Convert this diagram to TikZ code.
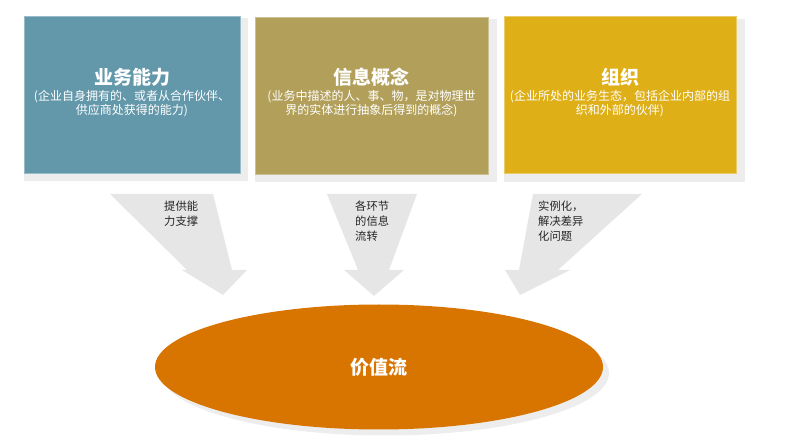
\documentclass[tikz,border=0pt]{standalone}
\usepackage{fontspec}
\setmainfont{Noto Sans CJK SC}
\usetikzlibrary{shapes.geometric,shadows}
\definecolor{capblue}{HTML}{6398AA}
\definecolor{infokhaki}{HTML}{B2A05A}
\definecolor{orggold}{HTML}{DFAF17}
\definecolor{valueorange}{HTML}{D87400}
\definecolor{shadowgray}{HTML}{EDEDED}
\definecolor{arrowgray}{HTML}{E6E6E6}
\tikzset{
  topbox/.style={rectangle, fill=#1, draw=white!35!#1, line width=0.6pt,
    minimum height=157pt, inner sep=0pt,
    drop shadow={shadow xshift=4pt, shadow yshift=-5pt, shadow scale=1.04,
      fill=shadowgray, opacity=1}},
  boxtitle/.style={text=white, font=\bfseries\fontsize{19}{21}\selectfont},
  boxnote/.style={text=white, align=center, inner sep=0pt,
    font=\fontsize{12}{11.2}\selectfont},
  arrowtext/.style={anchor=north west, align=left, inner sep=0pt,
    text=black!85, font=\fontsize{11.3}{15}\selectfont}
}

\begin{document}
\begin{tikzpicture}[x=1pt, y=-1pt]
      \useasboundingbox (0,0) rectangle (788,446);

      \node [topbox=capblue, minimum width=216pt] (cap) at (132,94.5) {};
      \node [topbox=infokhaki, minimum width=233pt] (info) at (371.5,95.5) {};
      \node [topbox=orggold, minimum width=232pt] (org) at (620,95) {};

      \node [boxtitle] (cap-t) at (132,77.5) {业务能力};
      \node [boxnote] (cap-n) at (132,103.5) {(企业自身拥有的、或者从合作伙伴、\\供应商处获得的能力)};
      \node [boxtitle] (info-t) at (371.5,77.5) {信息概念};
      \node [boxnote] (info-n) at (371.5,103.5) {(业务中描述的人、事、物，是对物理世\\界的实体进行抽象后得到的概念)};
      \node [boxtitle] (org-t) at (620,77.5) {组织};
      \node [boxnote] (org-n) at (620,103.5) {(企业所处的业务生态，包括企业内部的组\\织和外部的伙伴)};

      \fill [arrowgray] (110,194) -- (213,194) -- (232,270) -- (247,270) -- (223,295) -- (182,270) -- (187,270) -- cycle;
      \fill [arrowgray] (327,194) -- (417,194) -- (389,270) -- (404,270) -- (374,296) -- (344,270) -- (358,270) -- cycle;
      \fill [arrowgray] (533,194) -- (642,194) -- (558,270) -- (570,270) -- (520,295) -- (505,270) -- (519,270) -- cycle;

      \node [arrowtext] (cap-a) at (164,200.8) {提供能\\力支撑};
      \node [arrowtext] (info-a) at (355,200.8) {各环节\\的信息\\流转};
      \node [arrowtext] (org-a) at (538,200.8) {实例化，\\解决差异\\化问题};

      \node [ellipse, fill=valueorange, minimum width=448pt, minimum height=125pt, inner sep=0pt,
        drop shadow={shadow xshift=6pt, shadow yshift=-6pt, fill=shadowgray, opacity=1},
        text=white, font=\bfseries\fontsize{19}{21}\selectfont] (value) at (379,367) {价值流};
    \end{tikzpicture}
\end{document}
